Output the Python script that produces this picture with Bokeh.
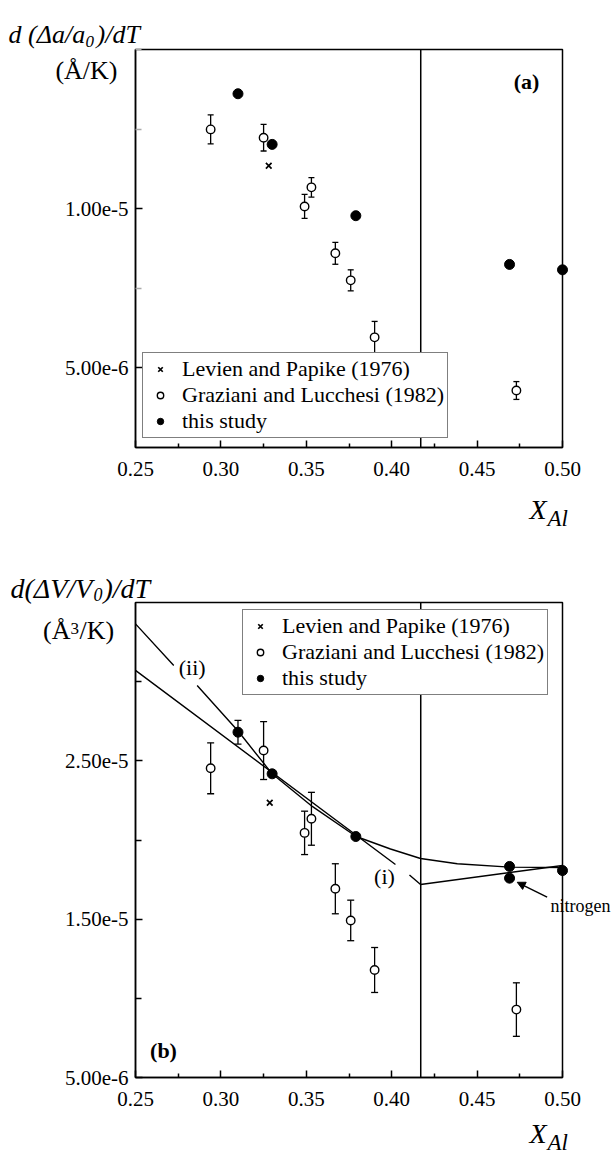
from bokeh.plotting import figure
from bokeh.layouts import column
from bokeh.models import (Range1d, FixedTicker, CustomJSTickFormatter, PrintfTickFormatter,
                          Label, Legend, LegendItem, Arrow, NormalHead, LinearAxis)
from bokeh.embed import file_html
from bokeh.resources import INLINE

nan = float("nan")
FONT = "Liberation Serif"

# ---------------- shared axis data ----------------
x_lim = (0.25, 0.50)
x_ticks = [0.25, 0.30, 0.35, 0.40, 0.45, 0.50]
x_minor = [0.275, 0.325, 0.375, 0.425, 0.475]
phase_boundary_x = 0.417
legend_labels = ["Levien and Papike (1976)", "Graziani and Lucchesi (1982)", "this study"]

# ---------------- panel (a): d(Δa/a0)/dT ----------------
a_y_lim = (2.5e-6, 1.5e-5)
a_y_ticks = [5e-6, 1e-5]
a_y_minor = [7.5e-6, 1.25e-5, 1.5e-5]
a_levien_x = [0.328]
a_levien_y = [1.135e-5]
a_graz_x = [0.294, 0.325, 0.353, 0.349, 0.367, 0.376, 0.390, 0.473]
a_graz_y = [1.249e-5, 1.223e-5, 1.067e-5, 1.007e-5, 8.60e-6, 7.75e-6, 5.96e-6, 4.29e-6]
a_graz_err = [4.55e-7, 4.18e-7, 3.05e-7, 3.77e-7, 3.45e-7, 3.3e-7, 5.0e-7, 2.8e-7]
a_study_x = [0.31, 0.33, 0.379, 0.469, 0.50]
a_study_y = [1.361e-5, 1.202e-5, 9.78e-6, 8.25e-6, 8.08e-6]

# ---------------- panel (b): d(ΔV/V0)/dT ----------------
b_y_lim = (5e-6, 3.5e-5)
b_y_ticks = [5e-6, 1.5e-5, 2.5e-5]
b_y_minor = [1e-5, 2e-5, 3e-5]
b_levien_x = [0.3286]
b_levien_y = [2.235e-5]
b_graz_x = [0.294, 0.325, 0.353, 0.349, 0.367, 0.376, 0.390, 0.473]
b_graz_y = [2.453e-5, 2.565e-5, 2.134e-5, 2.045e-5, 1.692e-5, 1.492e-5, 1.179e-5, 9.29e-6]
b_graz_err = [1.61e-6, 1.83e-6, 1.67e-6, 1.37e-6, 1.58e-6, 1.28e-6, 1.42e-6, 1.69e-6]
b_study_x = [0.31, 0.33, 0.379, 0.469, 0.469, 0.50]
b_study_y = [2.681e-5, 2.418e-5, 2.022e-5, 1.833e-5, 1.759e-5, 1.807e-5]
b_study_err = [7.5e-7, 0, 0, 0, 0, 0]
# fitted curves (nan = gap where a label sits)
curve_ii_x = [0.25, 0.2724, nan, 0.2861, 0.3103, 0.33, 0.3535, 0.3792, 0.3993, 0.4169, 0.4384, 0.469, 0.50]
curve_ii_y = [3.365e-5, 3.102e-5, nan, 2.976e-5, 2.685e-5, 2.418e-5, 2.212e-5, 2.022e-5, 1.943e-5,
              1.883e-5, 1.850e-5, 1.829e-5, 1.826e-5]
line_i_x = [0.25, 0.4022, nan, 0.4104, 0.4169, 0.50]
line_i_y = [3.071e-5, 1.845e-5, nan, 1.779e-5, 1.719e-5, 1.839e-5]
nitrogen_arrow = (0.4910, 1.639e-5, 0.4735, 1.733e-5)

# ---------------- layout (pixels) ----------------
W = 615
BOX_LEFT, BOX_RIGHT = 135, 562


def view_range(lo, hi, px_lo, px_hi, canvas_px):
    per = (hi - lo) / (px_hi - px_lo)
    return Range1d(lo - px_lo * per, hi + (canvas_px - px_hi) * per)


def view_range_y(lo, hi, px_top, px_bottom, canvas_px):
    per = (hi - lo) / (px_bottom - px_top)
    return Range1d(lo - (canvas_px - px_bottom) * per, hi + px_top * per)


def make_panel(height, box_top, box_bottom, y_lim, y_ticks, y_minor, minor_color):
    p = figure(width=W, height=height, title=None,
               x_range=view_range(x_lim[0], x_lim[1], BOX_LEFT, BOX_RIGHT, W),
               y_range=view_range_y(y_lim[0], y_lim[1], box_top, box_bottom, height),
               x_axis_location=None, y_axis_location=None,
               output_backend="svg", toolbar_location=None, min_border=0)
    p.grid.visible = False
    p.outline_line_color = None
    p.background_fill_color = "white"
    p.border_fill_color = "white"
    xa = LinearAxis(fixed_location=y_lim[0], bounds=x_lim,
                    ticker=FixedTicker(ticks=x_ticks, minor_ticks=x_minor),
                    formatter=PrintfTickFormatter(format="%.2f"))
    ya = LinearAxis(fixed_location=x_lim[0], bounds=y_lim,
                    ticker=FixedTicker(ticks=y_ticks, minor_ticks=y_minor),
                    formatter=CustomJSTickFormatter(code="return tick.toExponential(2);"))
    for ax in (xa, ya):
        ax.axis_line_color = "black"
        ax.axis_line_width = 1.5
        ax.major_tick_in = 7
        ax.major_tick_out = 0
        ax.minor_tick_in = 4
        ax.minor_tick_out = 0
        ax.major_tick_line_color = "black"
        ax.major_tick_line_width = 1.5
        ax.minor_tick_line_width = 1.5
        ax.major_label_text_font = FONT
        ax.major_label_text_font_size = "21px"
        ax.major_label_text_color = "black"
    xa.minor_tick_line_color = "black"
    ya.minor_tick_line_color = minor_color
    ya.minor_tick_in = 6
    xa.major_label_standoff = 14
    ya.major_label_standoff = 7
    # panel box and phase boundary
    p.quad(left=[x_lim[0]], right=[x_lim[1]], bottom=[y_lim[0]], top=[y_lim[1]],
           fill_color=None, line_color="black", line_width=1.5)
    p.segment(x0=[phase_boundary_x], y0=[y_lim[0]], x1=[phase_boundary_x], y1=[y_lim[1]],
              line_color="black", line_width=1.5)
    p.add_layout(xa, "below")
    p.add_layout(ya, "left")
    return p


def errorbars(p, xs, ys, errs, cap=7):
    lo = [y - e for y, e in zip(ys, errs)]
    hi = [y + e for y, e in zip(ys, errs)]
    p.segment(x0=xs, y0=lo, x1=xs, y1=hi, line_color="black", line_width=1.3)
    p.scatter(x=xs + xs, y=lo + hi, marker="dash", size=cap, line_color="black", line_width=1.3)


def points(p, lx, ly, gx, gy, sx, sy):
    r_x = p.scatter(lx, ly, marker="x", size=8, line_color="black", line_width=1.7)
    r_o = p.scatter(gx, gy, marker="circle", size=8.5, fill_color="white", line_color="black", line_width=1.4)
    r_f = p.scatter(sx, sy, marker="circle", size=10, fill_color="black", line_color="black")
    return r_x, r_o, r_f


def add_legend(p, renderers, loc):
    items = [LegendItem(label=t, renderers=[r]) for t, r in zip(legend_labels, renderers)]
    lg = Legend(items=items, location=loc, padding=3, spacing=0, margin=0,
                glyph_width=28, glyph_height=16, label_height=20, label_standoff=8,
                label_text_font=FONT, label_text_font_size="22px", label_text_color="black",
                border_line_color="black", border_line_width=1.5,
                background_fill_color="white", background_fill_alpha=1.0)
    p.add_layout(lg)


def lab(p, x, y, text, size, style="normal", align="left", baseline="alphabetic"):
    p.add_layout(Label(x=x, y=y, x_units="screen", y_units="screen", text=text,
                       text_font=FONT, text_font_size=f"{size}px", text_font_style=style,
                       text_align=align, text_baseline=baseline, text_color="black"))


# ================= panel (a) =================
HA = 548
pa = make_panel(HA, 49, 447, a_y_lim, a_y_ticks, a_y_minor, "#aaaaaa")
errorbars(pa, a_graz_x, a_graz_y, a_graz_err, cap=6)
ra = points(pa, a_levien_x, a_levien_y, a_graz_x, a_graz_y, a_study_x, a_study_y)
add_legend(pa, ra, (142, HA - 438))
lab(pa, 8, HA - 34, "d (\u0394a/a", 26, "italic")
lab(pa, 85, HA - 41, "0", 17, "italic")
lab(pa, 96, HA - 34, ")/dT", 26, "italic")
lab(pa, 117, HA - 70, "(\u00c5/K)", 26, align="right")
lab(pa, 526, HA - 81, "(a)", 22, "bold", align="center", baseline="middle")
lab(pa, 529, HA - 509, "X", 28, "italic", baseline="middle")
lab(pa, 547, HA - 518, "Al", 23, "italic", baseline="middle")

# ================= panel (b) =================
HB = 609
TOP_B = 548
pb = make_panel(HB, 602 - TOP_B, 1077 - TOP_B, b_y_lim, b_y_ticks, b_y_minor, "black")
pb.line(curve_ii_x, curve_ii_y, line_color="black", line_width=1.4)
pb.line(line_i_x, line_i_y, line_color="black", line_width=1.4)
errorbars(pb, b_graz_x, b_graz_y, b_graz_err)
errorbars(pb, b_study_x, b_study_y, b_study_err)
rb = points(pb, b_levien_x, b_levien_y, b_graz_x, b_graz_y, b_study_x, b_study_y)
add_legend(pb, rb, (242, TOP_B + HB - 695))
pb.add_layout(Arrow(end=NormalHead(size=8, fill_color="black", line_color="black"),
                    x_start=nitrogen_arrow[0], y_start=nitrogen_arrow[1],
                    x_end=nitrogen_arrow[2], y_end=nitrogen_arrow[3],
                    line_color="black", line_width=1.4))
BOT_B = TOP_B + HB
lab(pb, 10, BOT_B - 588, "d(\u0394V/V", 28, "italic")
lab(pb, 93, BOT_B - 594, "0", 18, "italic")
lab(pb, 103, BOT_B - 588, ")/dT", 28, "italic")
lab(pb, 70, BOT_B - 630, "(\u00c5", 26, align="right")
lab(pb, 70, BOT_B - 628, "3", 17)
lab(pb, 79, BOT_B - 630, "/K)", 26)
lab(pb, 163, BOT_B - 1050, "(b)", 22, "bold", align="center", baseline="middle")
lab(pb, 191.7, BOT_B - 666.7, "(ii)", 22, align="center", baseline="middle")
lab(pb, 384, BOT_B - 876, "(i)", 22, align="center", baseline="middle")
lab(pb, 550, BOT_B - 905, "nitrogen", 18, baseline="middle")
lab(pb, 529, BOT_B - 1133, "X", 28, "italic", baseline="middle")
lab(pb, 547, BOT_B - 1142, "Al", 23, "italic", baseline="middle")

layout = column(pa, pb)
open("out.html", "w").write(file_html(layout, INLINE))
